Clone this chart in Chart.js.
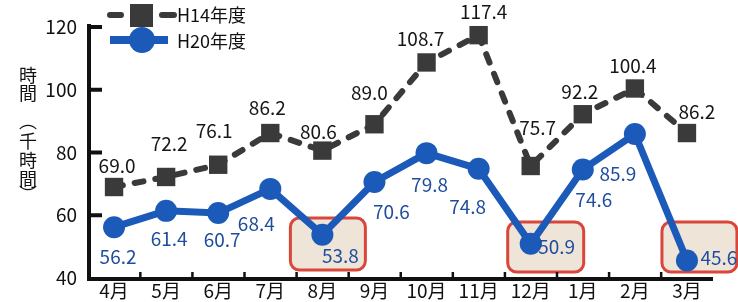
<!DOCTYPE html>
<html>
<head>
<meta charset="utf-8">
<script src="https://cdn.jsdelivr.net/npm/chart.js@4/dist/chart.umd.min.js"></script>
<style>
  html, body { margin: 0; padding: 0; background: #fff; }
  #wrap { width: 738px; height: 302px; }
</style>
</head>
<body>
<div id="wrap"><canvas id="chart" width="738" height="302"></canvas></div>
<script>
const months = ['4月', '5月', '6月', '7月', '8月', '9月', '10月', '11月', '12月', '1月', '2月', '3月'];
const h14Hours = [69.0, 72.2, 76.1, 86.2, 80.6, 89.0, 108.7, 117.4, 75.7, 92.2, 100.4, 86.2];
const h20Hours = [56.2, 61.4, 60.7, 68.4, 53.8, 70.6, 79.8, 74.8, 50.9, 74.6, 85.9, 45.6];
const yTicks = [40, 60, 80, 100, 120];
const seriesNames = ['H14年度', 'H20年度'];
const highlighted = [4, 8, 11];
const yTitle = ['時', '間', '︵', '千', '時', '間', '︶'];

const FONT = "'Noto Sans CJK JP', 'Noto Sans', sans-serif";
const GRAY = '#3a3a3a';
const BLUE = '#1b5ab8';
const BLUE_TEXT = '#1f4d9e';

// label offsets from each point (dx, dy)
const h14Shift = [[3, -21], [3, -33], [-4, -34], [-3, -25], [-4, -19], [-5, -31],
                  [-6, -24], [5, -23], [7, -38], [-3, -22], [-2, -23], [10, -21]];
const h20Shift = [[4, 30], [3, 28], [4, 27], [-14, 35], [18, 21], [17, 30],
                  [3, 32], [-11, 38], [26, 3], [11, 30], [-17, 40], [32, -3]];
// highlight boxes: left/right offsets from the point x, top/bottom in px
const boxShape = { 4: [-32, 43, 218, 270], 8: [-23, 53, 222, 272], 11: [-25, 50, 222, 272] };

function roundRect(ctx, x, y, w, h, r) {
    ctx.beginPath();
    ctx.moveTo(x + r, y);
    ctx.arcTo(x + w, y, x + w, y + h, r);
    ctx.arcTo(x + w, y + h, x, y + h, r);
    ctx.arcTo(x, y + h, x, y, r);
    ctx.arcTo(x, y, x + w, y, r);
    ctx.closePath();
}

const decorations = {
    id: 'decorations',
    beforeDatasetsDraw(chart) {
        const ctx = chart.ctx;
        const x = chart.scales.x;
        ctx.save();
        highlighted.forEach(i => {
            const b = boxShape[i];
            const px = x.getPixelForValue(i);
            roundRect(ctx, px + b[0], b[2], b[1] - b[0], b[3] - b[2], 9);
            ctx.fillStyle = '#efe4d8';
            ctx.fill();
            ctx.lineWidth = 3;
            ctx.strokeStyle = '#d8463c';
            ctx.stroke();
        });
        ctx.restore();
    },
    afterDraw(chart) {
        const ctx = chart.ctx;
        const x = chart.scales.x;
        const y = chart.scales.y;
        const left = y.right;
        const bottom = x.top;
        const right = x.right;
        ctx.save();

        // axes and inward tick marks
        ctx.fillStyle = '#111111';
        ctx.fillRect(left - 1, y.top - 3, 4, bottom - y.top + 5);
        ctx.fillRect(left - 1, bottom - 1, right - left + 1, 4);
        yTicks.slice(1).forEach(v => {
            const py = y.getPixelForValue(v);
            ctx.fillRect(left, py - 2, 14, 4);
        });
        for (let i = 1; i < months.length; i++) {
            const px = (x.getPixelForValue(i - 1) + x.getPixelForValue(i)) / 2;
            ctx.fillRect(px - 1, bottom - 6, 2.5, 6);
        }

        // value labels
        ctx.font = '19px ' + FONT;
        ctx.textAlign = 'center';
        ctx.textBaseline = 'middle';
        h14Hours.forEach((v, i) => {
            ctx.fillStyle = '#161616';
            ctx.fillText(v.toFixed(1), x.getPixelForValue(i) + h14Shift[i][0], y.getPixelForValue(v) + h14Shift[i][1]);
        });
        h20Hours.forEach((v, i) => {
            ctx.fillStyle = BLUE_TEXT;
            ctx.fillText(v.toFixed(1), x.getPixelForValue(i) + h20Shift[i][0], y.getPixelForValue(v) + h20Shift[i][1]);
        });

        // legend
        ctx.lineCap = 'round';
        ctx.strokeStyle = GRAY;
        ctx.lineWidth = 6;
        ctx.beginPath();
        ctx.moveTo(110, 15); ctx.lineTo(121, 15);
        ctx.moveTo(162, 15); ctx.lineTo(174, 15);
        ctx.stroke();
        ctx.fillStyle = GRAY;
        ctx.fillRect(130, 4, 23, 23);
        ctx.strokeStyle = BLUE;
        ctx.lineCap = 'butt';
        ctx.lineWidth = 8;
        ctx.beginPath();
        ctx.moveTo(110, 40); ctx.lineTo(168, 40);
        ctx.stroke();
        ctx.fillStyle = BLUE;
        ctx.beginPath();
        ctx.arc(142, 40, 13, 0, Math.PI * 2);
        ctx.fill();
        ctx.fillStyle = '#111';
        ctx.font = '18px ' + FONT;
        ctx.textAlign = 'left';
        ctx.fillText(seriesNames[0], 177, 15);
        ctx.fillText(seriesNames[1], 177, 41);

        // y axis title, stacked vertically
        ctx.textAlign = 'center';
        ctx.font = '18px ' + FONT;
        const ys = [75, 93, 121, 141, 160, 179, 194];
        yTitle.forEach((c, i) => ctx.fillText(c, 28, ys[i]));

        ctx.restore();
    }
};

new Chart(document.getElementById('chart'), {
    type: 'line',
    data: {
        labels: months,
        datasets: [
            {
                label: seriesNames[0],
                data: h14Hours,
                borderColor: GRAY,
                backgroundColor: GRAY,
                borderWidth: 6,
                borderDash: [9, 12],
                borderCapStyle: 'round',
                pointStyle: 'rect',
                pointRadius: 13,
                pointBorderWidth: 0,
                tension: 0
            },
            {
                label: seriesNames[1],
                data: h20Hours,
                borderColor: BLUE,
                backgroundColor: BLUE,
                borderWidth: 7,
                pointStyle: 'circle',
                pointRadius: 11,
                pointBorderWidth: 0,
                tension: 0
            }
        ]
    },
    options: {
        responsive: false,
        animation: false,
        clip: false,
        layout: { padding: { top: 27, right: 25, left: 0, bottom: 0 } },
        plugins: {
            legend: { display: false },
            tooltip: { enabled: false }
        },
        scales: {
            x: {
                offset: true,
                grid: { display: false, drawTicks: false },
                border: { display: false },
                ticks: { font: { family: FONT, size: 19 }, color: '#111', padding: 1, maxRotation: 0, autoSkip: false },
                afterFit(scale) { scale.height = 24; }
            },
            y: {
                min: yTicks[0],
                max: yTicks[yTicks.length - 1],
                grid: { display: false, drawTicks: false },
                border: { display: false },
                ticks: { stepSize: 20, font: { family: FONT, size: 19 }, color: '#111', padding: 11 },
                afterFit(scale) { scale.width = 88; }
            }
        }
    },
    plugins: [decorations]
});
</script>
</body>
</html>
